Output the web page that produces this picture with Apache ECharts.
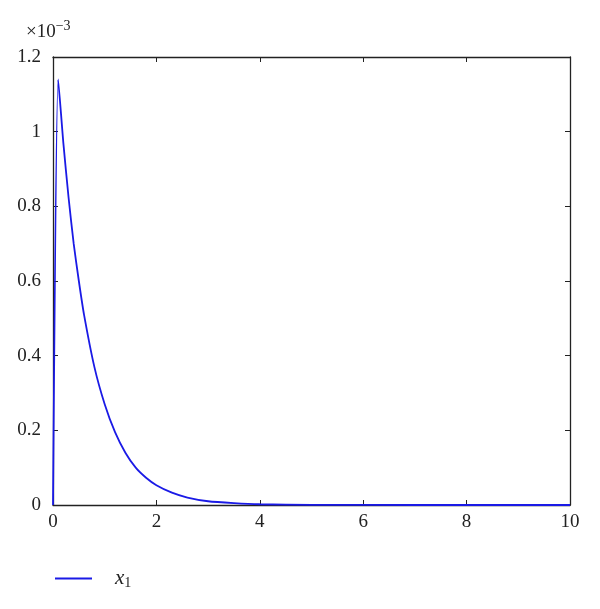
<!DOCTYPE html>
<html>
<head>
<meta charset="utf-8">
<script src="https://cdn.jsdelivr.net/npm/echarts@6/dist/echarts.min.js"></script>
<style>html,body{margin:0;padding:0;background:#fff}#c{width:600px;height:609px}</style>
</head>
<body>
<div id="c"></div>
<script>
// x values (time) and x1 values in units of 1e-3
const xs = [0, 0.1, 0.2, 0.3, 0.4, 0.5, 0.6, 0.8, 1.0, 1.2, 1.4, 1.6, 1.8, 2.0, 2.3, 2.6, 3.0, 3.5, 4.0, 5.0, 6.0, 8.0, 10.0];
const x1 = [0, 1.14, 0.97, 0.825, 0.70, 0.60, 0.51, 0.37, 0.27, 0.195, 0.14, 0.10, 0.073, 0.053, 0.033, 0.02, 0.01, 0.005, 0.002, 0.0004, 0.0001, 0, 0];
const xTicks = [0, 2, 4, 6, 8, 10];
const yTicks = [0, 0.2, 0.4, 0.6, 0.8, 1, 1.2];
const seriesName = 'x1';
const scaleLabel = '×10';
const scaleExp = '−3';

const font = '"Liberation Serif", "DejaVu Serif", serif';
const chart = echarts.init(document.getElementById('c'), null, {renderer: 'canvas'});
const axisCommon = () => ({
  axisLine: {show: true, onZero: false, lineStyle: {color: '#222', width: 1.3}},
  axisTick: {show: true, inside: true, length: 5, lineStyle: {color: '#222', width: 1}},
  splitLine: {show: false}
});
chart.setOption({
  animation: false,
  backgroundColor: '#fff',
  grid: {left: 53, right: 30, top: 57, bottom: 104, containLabel: false},
  xAxis: [
    Object.assign({type: 'value', min: 0, max: 10, interval: 2, position: 'bottom',
      axisLabel: {fontFamily: font, fontSize: 19, color: '#222', margin: 8,
        formatter: v => xTicks.includes(v) ? String(v) : ''}}, axisCommon()),
    Object.assign({type: 'value', min: 0, max: 10, interval: 2, position: 'top',
      axisLabel: {show: false}}, axisCommon())
  ],
  yAxis: [
    Object.assign({type: 'value', min: 0, max: 1.2, interval: 0.2, position: 'left',
      axisLabel: {fontFamily: font, fontSize: 19, color: '#222', margin: 12,
        formatter: v => { const t = yTicks.find(k => Math.abs(k - v) < 1e-9); return t === undefined ? '' : String(t); }}}, axisCommon()),
    Object.assign({type: 'value', min: 0, max: 1.2, interval: 0.2, position: 'right',
      axisLabel: {show: false}}, axisCommon())
  ],
  legend: {
    left: 50, top: 563, itemWidth: 37, itemHeight: 2, icon: 'rect',
    data: [seriesName],
    formatter: () => '{i|x}{s|1}',
    textStyle: {
      fontFamily: font, padding: [0, 0, 0, 18],
      rich: {
        i: {fontFamily: font, fontStyle: 'italic', fontSize: 21, color: '#222'},
        s: {fontFamily: font, fontSize: 14, color: '#222', verticalAlign: 'bottom', padding: [10, 0, 0, 0]}
      }
    }
  },
  graphic: [{
    type: 'text', left: 26, top: 19,
    style: {
      text: '{a|' + scaleLabel + '}{b|' + scaleExp + '}',
      rich: {
        a: {fontFamily: font, fontSize: 19, fill: '#222'},
        b: {fontFamily: font, fontSize: 14, fill: '#222', verticalAlign: 'top', padding: [0, 0, 12, 0]}
      }
    }
  }],
  series: [{
    name: seriesName, type: 'line', showSymbol: false, smooth: 0.2,
    xAxisIndex: 0, yAxisIndex: 0,
    lineStyle: {color: '#1a1ae6', width: 1.8},
    itemStyle: {color: '#1a1ae6'},
    data: xs.map((x, i) => [x, x1[i]])
  }]
});
</script>
</body>
</html>
